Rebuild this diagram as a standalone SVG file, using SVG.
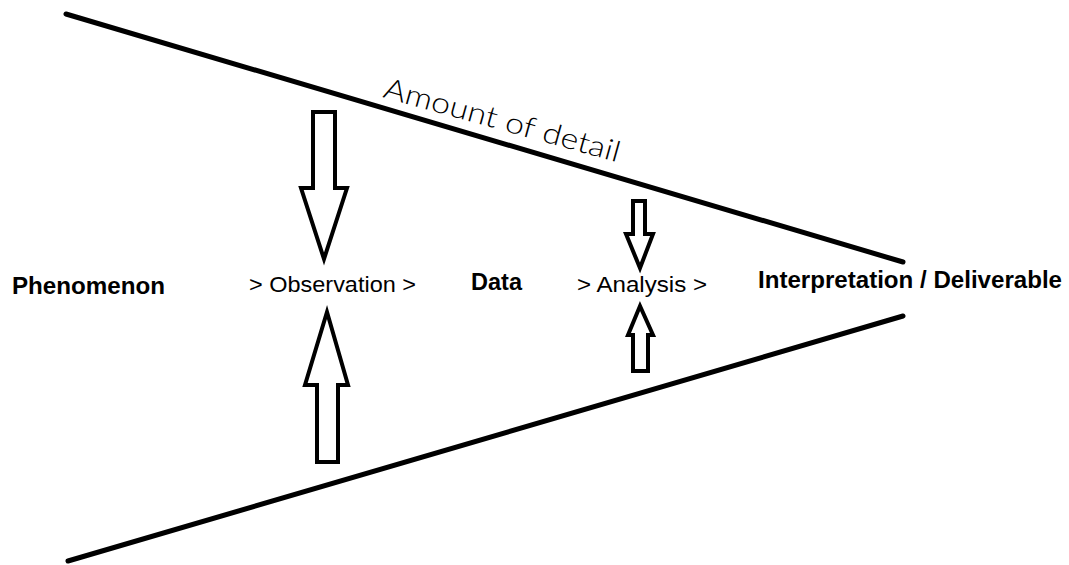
<svg xmlns="http://www.w3.org/2000/svg" width="1069" height="565" viewBox="0 0 1069 565">
<style>
.edge{stroke:#000;stroke-width:5;stroke-linecap:round;fill:none}
.arr{fill:#fff;stroke:#000;stroke-width:4;stroke-linejoin:miter;stroke-miterlimit:10}
.b{font-family:"Liberation Sans",Arial,sans-serif;font-weight:bold;font-size:23px;fill:#000}
.n{font-family:"Liberation Sans",Arial,sans-serif;font-size:22px;fill:#000}
.lbl{font-family:Lato,"Open Sans",sans-serif;font-weight:300;font-size:29px;fill:#000}
</style>
<rect width="1069" height="565" fill="#fff"/>
<g id="connectors">
<line class="edge" x1="66" y1="14" x2="903" y2="262"/>
<line class="edge" x1="68" y1="561" x2="903" y2="316"/>
</g>
<g id="arrow-observation-down"><polygon class="arr" points="313,112 335,112 335,188 347,188 324,259 301,188 313,188"/></g>
<g id="arrow-observation-up"><polygon class="arr" points="317,462 338,462 338,385 348,385 327,312 305,385 317,385"/></g>
<g id="arrow-analysis-down"><polygon class="arr" points="633,201 645,201 645,234 653,234 640,268 626,234 633,234"/></g>
<g id="arrow-analysis-up"><polygon class="arr" points="633,371 648,371 648,335 653,335 640,306 628,335 633,335"/></g>
<g id="label-detail"><text class="lbl" transform="translate(382,97) rotate(15.5)" textLength="244" lengthAdjust="spacingAndGlyphs">Amount of detail</text></g>
<g id="node-phenomenon"><text class="b" x="12" y="294" textLength="153" lengthAdjust="spacingAndGlyphs">Phenomenon</text></g>
<g id="node-observation"><text class="n" x="249" y="292" textLength="167" lengthAdjust="spacingAndGlyphs">&gt; Observation &gt;</text></g>
<g id="node-data"><text class="b" x="471" y="290" textLength="51" lengthAdjust="spacingAndGlyphs">Data</text></g>
<g id="node-analysis"><text class="n" x="577" y="292" textLength="130" lengthAdjust="spacingAndGlyphs">&gt; Analysis &gt;</text></g>
<g id="node-interpretation"><text class="b" x="758" y="288" textLength="304" lengthAdjust="spacingAndGlyphs">Interpretation / Deliverable</text></g>
</svg>
